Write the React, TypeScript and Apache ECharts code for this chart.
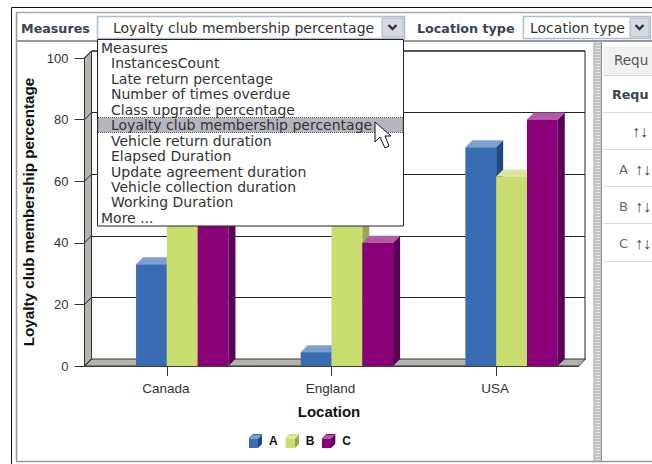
import React, { useEffect, useRef } from "react";
import * as echarts from "echarts";

const categories = ["Canada", "England", "USA"];
const seriesNames = ["A", "B", "C"];
const valuesA = [33, 4.5, 71];
const valuesB = [60, 56, 61.5];
const valuesC = [50, 40, 80];
const colorsFront = ["#3a6cb4", "#c8de6e", "#8a0078"];
const colorsTop = ["#7ba0cf", "#dbe6a0", "#b05ba5"];
const colorsSide = ["#1f4a7f", "#98a850", "#5a0055"];
const yTicks = { min: 0, max: 100, interval: 20 };
const yTitle = "Loyalty club membership percentage";
const xTitle = "Location";
const menuItems = [
  "Measures",
  "InstancesCount",
  "Late return percentage",
  "Number of times overdue",
  "Class upgrade percentage",
  "Loyalty club membership percentage",
  "Vehicle return duration",
  "Elapsed Duration",
  "Update agreement duration",
  "Vehicle collection duration",
  "Working Duration",
  "More ...",
];
const menuRows = [48, 63, 79, 94, 110, 125, 141, 156, 171.5, 187, 202, 218];
const menuIndent = [101, 111, 111, 111, 111, 111, 111, 111, 111, 111, 111, 101];
const panelLines = [75, 112, 149, 186, 223, 261];
const panelLetters = [["", 131], ["A", 169], ["B", 206], ["C", 243]] as const;

const UI_FONT = "'DejaVu Sans', Verdana, sans-serif";
const CHART_FONT = "'Liberation Sans', Arial, sans-serif";
const DEPTH = 7;

const rect = (x: number, y: number, w: number, h: number, fill: string, stroke?: string, lineWidth = 1, lineDash?: number[]) => ({
  type: "rect",
  shape: { x, y, width: w, height: h },
  style: { fill, stroke: stroke ?? "transparent", lineWidth, lineDash },
  silent: true,
});
const line = (x1: number, y1: number, x2: number, y2: number, stroke: string, lineWidth = 1, lineDash?: number[]) => ({
  type: "line",
  shape: { x1, y1, x2, y2 },
  style: { stroke, lineWidth, lineDash },
  silent: true,
});
const text = (x: number, y: number, t: string, font: string, fill = "#333", align = "left") => ({
  type: "text",
  x,
  y,
  style: { text: t, font, fill, textAlign: align, textVerticalAlign: "middle" },
  silent: true,
});
const chevron = (cx: number, cy: number) => ({
  type: "polyline",
  shape: { points: [[cx - 4, cy - 2], [cx, cy + 2], [cx + 4, cy - 2]] },
  style: { stroke: "#333", lineWidth: 2.4, fill: "none" },
  silent: true,
});
const combo = (x: number, w: number, label: string, btnX: number, btnW: number, textX: number) => [
  rect(x + 0.5, 16.5, w, 22, "#ffffff", "#a9bfd6", 1.5),
  text(textX, 28, label, `14px ${UI_FONT}`, "#333"),
  rect(btnX, 18, btnW, 19, "#d8d8e4", "#b4b4c4"),
  chevron(btnX + btnW / 2, 27),
];
const cube = (x: number, y: number, i: number) => [
  { type: "polygon", shape: { points: [[x, y + 4], [x + 4, y], [x + 13, y], [x + 9, y + 4]] }, style: { fill: colorsTop[i] }, silent: true },
  { type: "polygon", shape: { points: [[x + 9, y + 4], [x + 13, y], [x + 13, y + 9], [x + 9, y + 13]] }, style: { fill: colorsSide[i] }, silent: true },
  rect(x, y + 4, 9, 9, colorsFront[i]),
];

const renderBar = (params: any, api: any) => {
  const idx = api.value(0);
  const val = api.value(1);
  const catW = api.size([1, 0])[0];
  const barW = catW * 0.187;
  const center = api.coord([idx, 0])[0];
  const s = params.seriesIndex - 1;
  const x = center + (s - 1) * barW;
  const yTop = api.coord([idx, val])[1];
  const yBase = api.coord([idx, 0])[1];
  return {
    type: "group",
    children: [
      {
        type: "polygon",
        shape: { points: [[x + barW, yTop], [x + barW + DEPTH, yTop - DEPTH], [x + barW + DEPTH, yBase - DEPTH], [x + barW, yBase]] },
        style: { fill: colorsSide[s] },
      },
      {
        type: "polygon",
        shape: { points: [[x, yTop], [x + DEPTH, yTop - DEPTH], [x + barW + DEPTH, yTop - DEPTH], [x + barW, yTop]] },
        style: { fill: colorsTop[s] },
      },
      { type: "rect", shape: { x, y: yTop, width: barW, height: yBase - yTop }, style: { fill: colorsFront[s] } },
    ],
  };
};

const renderWalls = (params: any, api: any) => {
  const c = params.coordSys;
  const l = c.x;
  const t = c.y;
  const r = c.x + c.width;
  const b = c.y + c.height;
  const ticks = [];
  for (let v = yTicks.min; v <= yTicks.max; v += yTicks.interval) {
    const y = api.coord([0, v])[1];
    ticks.push({
      type: "line",
      shape: { x1: l, y1: y, x2: l + DEPTH, y2: y - DEPTH },
      style: { stroke: "#222", lineWidth: 1 },
    });
  }
  return {
    type: "group",
    children: [
      {
        type: "polygon",
        shape: { points: [[l, t], [l + DEPTH, t - DEPTH], [l + DEPTH, b - DEPTH], [l, b]] },
        style: { fill: "#b4b4ae", stroke: "#333", lineWidth: 1 },
      },
      {
        type: "polygon",
        shape: { points: [[l, b], [l + DEPTH, b - DEPTH], [r + DEPTH, b - DEPTH], [r, b]] },
        style: { fill: "#b4b4ae", stroke: "#333", lineWidth: 1 },
      },
      ...ticks,
    ],
  };
};

const uiElements = () => {
  const els: any[] = [];
  // frame
  els.push(line(11.5, 7.5, 652, 7.5, "#111"), line(11.5, 7.5, 11.5, 464, "#111"));
  els.push(line(16, 12.5, 652, 12.5, "#aaa", 1.5), line(16.5, 12.5, 16.5, 461.5, "#999", 1.5), line(16, 461.5, 652, 461.5, "#999", 1.5));
  // toolbar
  els.push(line(17, 41, 652, 41, "#999", 2));
  els.push(text(21, 28, "Measures", `bold 12.7px ${UI_FONT}`, "#3a4354"));
  els.push(text(417, 28, "Location type", `bold 12.7px ${UI_FONT}`, "#3a4354"));
  els.push(...combo(97, 307, menuItems[5], 382, 21, 113));
  els.push(...combo(523, 127, "Location type", 630, 19, 530));
  // splitter and right panel
  els.push(rect(594, 42, 8, 419, "#c2c2c2"), line(597.5, 42, 597.5, 461, "#e4e4e4", 6, [1, 2]), line(601.5, 42, 601.5, 461, "#8f8f8f"), line(594, 42, 594, 461, "#aaa"));
  els.push(rect(603, 47, 49, 28, "#f1f1f1"));
  panelLines.forEach((y) => els.push(line(603, y + 0.5, 652, y + 0.5, "#dcdcdc")));
  els.push(text(614, 60, "Requ", `13.5px ${UI_FONT}`, "#555"));
  els.push(text(612, 94, "Requ", `bold 12.7px ${UI_FONT}`, "#3a4354"));
  panelLetters.forEach(([label, y]) => {
    if (label) els.push(text(619, y, label, `13px ${UI_FONT}`, "#666"));
    els.push(text(label ? 635 : 632, y, "↑↓", `16px ${CHART_FONT}`, "#444"));
  });
  // drop-down menu
  els.push(rect(97.5, 39.5, 306, 186.5, "#ffffff", "#222", 1));
  els.push(rect(98, 117.5, 305, 15, "#b5b5c0", "#555", 1, [1, 1]));
  menuItems.forEach((m, i) => els.push(text(menuIndent[i], menuRows[i], m, `14px ${UI_FONT}`, "#333")));
  // cursor
  els.push({
    type: "polygon",
    shape: { points: [[375, 122], [375, 142], [380, 137], [385, 148], [389, 146], [385, 136], [391, 136]] },
    style: { fill: "#fff", stroke: "#111", lineWidth: 1 },
    silent: true,
  });
  // legend cubes
  [249, 286, 322].forEach((x, i) => els.push(...cube(x, 435, i)));
  return els.map((e) => ({ ...e, z: 100 }));
};

export default function App() {
  const ref = useRef<HTMLDivElement>(null);
  useEffect(() => {
    document.body.style.margin = "0";
    const chart = echarts.init(ref.current!, undefined, { renderer: "svg" });
    const seriesValues = [valuesA, valuesB, valuesC];
    chart.setOption({
      animation: false,
      backgroundColor: "#ffffff",
      textStyle: { fontFamily: CHART_FONT },
      grid: [
        { left: 84.5, top: 58, width: 494, height: 308 },
        { left: 91.5, top: 51, width: 493.5, height: 308 },
      ],
      xAxis: [
        {
          type: "category",
          gridIndex: 0,
          data: categories,
          name: xTitle,
          nameLocation: "middle",
          nameGap: 38,
          nameTextStyle: { fontWeight: "bold", fontSize: 15, color: "#111", padding: [0, 5, 2, 0] },
          axisLine: { lineStyle: { color: "#111", width: 1.5 } },
          axisTick: { show: true, alignWithLabel: true, length: 10, lineStyle: { color: "#333" } },
          axisLabel: { fontSize: 13.5, color: "#333", margin: 15, interval: 0, padding: [0, 2, 0, 0] },
        },
        {
          type: "category",
          gridIndex: 1,
          data: categories,
          axisLine: { show: false },
          axisTick: { show: false },
          axisLabel: { show: false },
        },
      ],
      yAxis: [
        {
          type: "value",
          gridIndex: 0,
          ...yTicks,
          name: yTitle,
          nameLocation: "middle",
          nameGap: 49,
          nameMoveOverlap: false,
          nameTextStyle: { fontWeight: "bold", fontSize: 15.2, color: "#111" },
          axisLine: { show: true, lineStyle: { color: "#222", width: 1 } },
          axisTick: { show: true, length: 10, lineStyle: { color: "#333" } },
          axisLabel: { fontSize: 13, color: "#333", margin: 16 },
          splitLine: { show: false },
        },
        {
          type: "value",
          gridIndex: 1,
          ...yTicks,
          axisLine: { show: false },
          axisTick: { show: false },
          axisLabel: { show: false },
          splitLine: { show: true, lineStyle: { color: "#222", width: 1 } },
        },
      ],
      legend: {
        data: seriesNames,
        left: 249,
        top: 434,
        padding: 0,
        itemWidth: 13,
        itemHeight: 13,
        itemGap: 8,
        icon: "path://M0,4L4,0L13,0L13,9L9,13L0,13Z",
        textStyle: { fontWeight: "bold", fontSize: 12, color: "#111", padding: [0, 0, 0, 2] },
        selectedMode: false,
      },
      series: [
        {
          type: "custom",
          name: "walls",
          xAxisIndex: 0,
          yAxisIndex: 0,
          z: 1,
          silent: true,
          data: [[0, 0]],
          renderItem: renderWalls,
        },
        ...seriesNames.map((name, i) => ({
          type: "custom",
          name,
          xAxisIndex: 0,
          yAxisIndex: 0,
          z: 3,
          itemStyle: { color: colorsFront[i] },
          data: seriesValues[i].map((v, k) => [k, v]),
          encode: { x: 0, y: 1 },
          renderItem: renderBar,
        })),
        {
          type: "custom",
          name: "backFrame",
          xAxisIndex: 1,
          yAxisIndex: 1,
          z: 1,
          silent: true,
          data: [[0, 0]],
          renderItem: (params: any) => {
            const c = params.coordSys;
            return {
              type: "group",
              children: [
                { type: "line", shape: { x1: c.x, y1: c.y, x2: c.x + c.width, y2: c.y }, style: { stroke: "#555", lineWidth: 2 } },
                { type: "line", shape: { x1: c.x + c.width, y1: c.y, x2: c.x + c.width, y2: c.y + c.height }, style: { stroke: "#222", lineWidth: 1 } },
              ],
            };
          },
        },
      ],
      graphic: { elements: uiElements() },
    });
    return () => chart.dispose();
  }, []);
  return <div ref={ref} style={{ width: 652, height: 464 }} />;
}
